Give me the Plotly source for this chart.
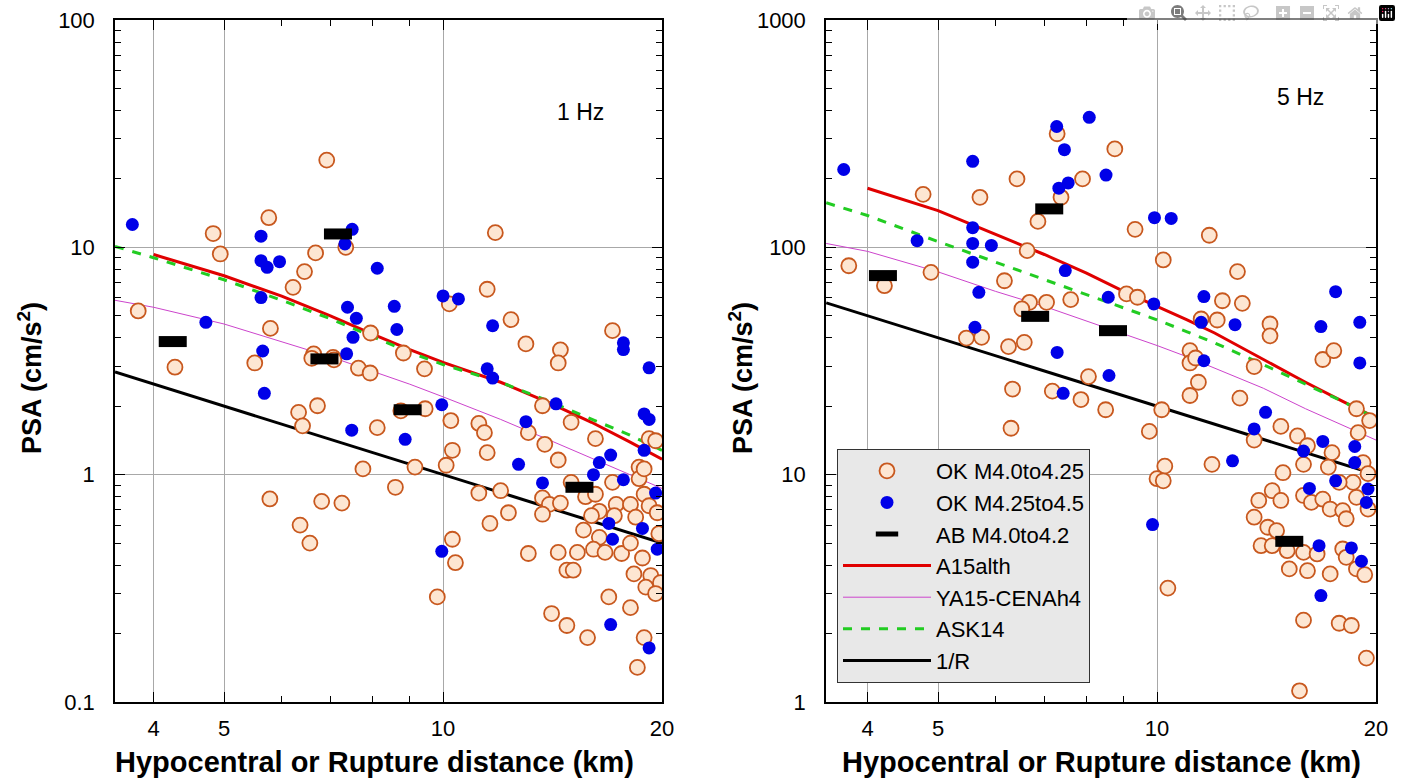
import plotly.graph_objects as go

W, H = 1401, 782

# ---------------- 1 Hz panel data ----------------
ok_low_1hz_x = [6.92, 5.76, 4.83, 4.94, 11.8, 7.35, 6.68, 6.45, 6.22, 11.5, 10.2, 3.81, 12.4, 5.79, 7.95, 17.1,
                13.0, 14.5, 14.4, 8.82, 9.43, 4.28, 5.51, 6.64, 6.6, 7.06, 7.08, 7.65, 7.94, 6.33, 6.72, 6.41,
                8.12, 7.76, 5.78, 6.81, 7.26, 6.36, 6.56, 8.6, 8.75, 9.45, 10.25, 11.2, 11.4, 13.7, 13.1, 13.8,
                15.0, 16.2, 19.2, 10.3, 11.5, 10.1, 9.15, 14.4, 18.6, 11.2, 12.0, 15.0, 15.7, 16.2, 17.1, 18.6,
                18.9, 13.7, 14.0, 14.5, 13.7, 12.3, 11.6, 16.4, 16.0, 17.3, 18.1, 18.4, 19.2, 19.7, 19.8, 17.2,
                15.6, 16.4, 16.1, 15.3, 14.4, 13.1, 16.7, 17.6, 18.1, 18.8, 14.8, 15.1, 18.3, 19.3, 19.0, 19.9,
                19.6, 10.3, 10.4, 9.82, 16.9, 18.1, 14.1, 14.8, 15.8, 18.9, 18.5, 18.9, 19.6]
ok_low_1hz_y = [24.2, 13.5, 11.5, 9.35, 11.6, 10.0, 9.45, 7.82, 6.67, 6.54, 5.64, 5.25, 4.81, 4.40, 4.2, 4.3,
                3.76, 3.54, 3.1, 3.43, 2.92, 2.97, 3.1, 3.4, 3.25, 3.28, 3.2, 2.94, 2.8, 1.88, 2.01, 1.64,
                1.61, 1.06, 0.782, 0.763, 0.75, 0.60, 0.50, 0.88, 1.91, 1.95, 1.73, 1.68, 1.53, 2.01, 1.53, 1.36,
                1.70, 1.44, 1.44, 1.28, 1.25, 1.1, 1.08, 1.16, 1.08, 0.83, 0.85, 0.925, 0.80, 0.82, 0.925, 0.96,
                0.82, 0.79, 0.74, 0.75, 0.67, 0.68, 0.61, 0.69, 0.66, 0.74, 0.74, 0.65, 0.73, 0.68, 0.55, 0.66,
                0.57, 0.53, 0.47, 0.455, 0.455, 0.45, 0.455, 0.45, 0.50, 0.43, 0.38, 0.38, 0.366, 0.36, 0.32, 0.335,
                0.30, 0.52, 0.41, 0.29, 0.29, 0.26, 0.245, 0.217, 0.192, 0.192, 0.142, 1.06, 1.41]

ok_high_1hz_x = [3.74, 5.62, 7.5, 7.33, 5.62, 5.73, 5.96, 8.12, 5.62, 10.0, 10.5, 4.72, 7.39, 7.6, 8.57, 8.64,
                 7.52, 11.7, 17.7, 17.7, 5.65, 7.37, 5.68, 7.49, 19.2, 11.5, 11.7, 9.96, 14.3, 13.0, 18.9, 19.2,
                 18.9, 17.0, 16.4, 16.1, 12.7, 13.7, 17.7, 19.6, 16.9, 17.1, 18.8, 19.7, 9.96, 17.0, 19.2, 8.87]
ok_high_1hz_y = [12.6, 11.2, 12.0, 10.35, 8.74, 8.17, 8.65, 8.09, 6.01, 6.11, 5.93, 4.68, 5.45, 4.87, 5.5, 4.35,
                 4.02, 4.52, 3.8, 3.55, 3.5, 3.4, 2.28, 1.57, 2.95, 2.92, 2.66, 2.03, 2.05, 1.71, 1.85, 1.75,
                 1.28, 1.22, 1.13, 1.0, 1.11, 0.92, 0.95, 0.83, 0.61, 0.52, 0.58, 0.47, 0.46, 0.219, 0.173, 1.43]

ab_1hz_x = [4.25, 7.17, 6.87, 8.94, 15.4]
ab_1hz_y = [3.85, 11.45, 3.23, 1.93, 0.88]

a15_1hz_x = [4, 5, 6, 7, 8, 9, 10, 12, 14, 16, 18, 20]
a15_1hz_y = [9.3, 7.5, 6.1, 5.0, 4.15, 3.55, 3.12, 2.55, 2.07, 1.7, 1.4, 1.17]
ya15_1hz_x = [3.54, 4, 5, 6, 7, 8, 9, 10, 12, 14, 16, 18, 20]
ya15_1hz_y = [5.85, 5.45, 4.6, 3.85, 3.3, 2.85, 2.5, 2.2, 1.75, 1.42, 1.18, 1.0, 0.87]
ask_1hz_x = [3.54, 4, 5, 6, 7, 8, 9, 10, 12, 14, 16, 18, 20]
ask_1hz_y = [10.1, 9.0, 7.2, 5.85, 4.85, 4.05, 3.45, 3.05, 2.55, 2.1, 1.75, 1.5, 1.28]
invr_1hz_x = [3.54, 20]
invr_1hz_y = [2.83, 0.5]

# ---------------- 5 Hz panel data ----------------
ok_low_5hz_x = [7.29, 8.75, 6.42, 7.9, 4.77, 5.71, 7.38, 6.86, 9.33, 11.8, 6.63, 10.2, 3.77, 4.89, 4.22, 12.9,
                6.17, 9.08, 9.4, 7.61, 12.3, 13.1, 6.68, 7.05, 6.52, 5.47, 5.74, 6.25, 6.57, 8.05, 6.33, 7.18,
                7.86, 8.5, 6.3, 9.76, 10.15, 10.25, 10.0, 10.2, 10.35, 11.5, 12.1, 14.3, 14.3, 11.1, 11.1, 11.3,
                11.4, 11.1, 13.0, 13.6, 16.9, 17.5, 18.8, 19.6, 18.9, 13.6, 11.9, 14.8, 15.6, 16.1, 17.4, 15.9,
                14.9, 17.2, 19.2, 19.5, 14.4, 14.8, 13.8, 13.6, 15.9, 16.3, 16.9, 17.3, 18.0, 18.6, 18.2, 18.8,
                19.5, 17.8, 14.2, 14.6, 13.9, 14.4, 15.1, 15.9, 16.6, 16.1, 15.2, 17.3, 18.0, 18.2, 18.8, 19.3,
                15.9, 17.8, 18.5, 19.4, 15.7]
ok_low_5hz_y = [316, 271, 200, 200, 171, 166, 166, 130, 120, 113, 96.7, 88, 83, 77.6, 67.8, 78.2,
                71.3, 62.4, 60.3, 58.9, 58.2, 56.7, 57.3, 57.3, 53.6, 39.9, 40.2, 36.6, 38.2, 27, 23.8, 23.3,
                21.4, 19.3, 16, 15.5, 19.3, 10.9, 9.6, 9.4, 3.17, 48.4, 47.9, 46, 40.8, 35.1, 31, 32.6,
                25.5, 22.3, 21.7, 29.9, 32.1, 35.1, 19.5, 17.3, 15.3, 14.2, 11.1, 16.3, 14.8, 13.4, 12.5, 11.1,
                10.2, 10.8, 11.3, 10.1, 8.5, 7.7, 7.7, 6.5, 8.1, 7.55, 7.8, 7.06, 6.95, 9.25, 6.4, 7.95,
                7.06, 9.25, 5.87, 5.67, 4.87, 4.87, 4.63, 4.55, 4.48, 3.78, 3.85, 3.66, 4.71, 4.33, 3.85, 3.63,
                2.29, 2.22, 2.17, 1.56, 1.12]

ok_high_5hz_x = [3.71, 5.58, 7.28, 8.07, 7.46, 8.51, 7.33, 7.55, 4.68, 5.58, 5.58, 5.58, 5.92, 9.92, 10.46, 7.48,
                 5.69, 8.57, 9.9, 11.6, 17.6, 5.62, 7.29, 8.59, 7.43, 11.5, 12.8, 16.8, 19.0, 11.6, 19.0, 14.1,
                 13.6, 12.7, 16.9, 15.9, 18.7, 18.7, 17.6, 16.2, 19.5, 19.4, 9.86, 16.7, 18.5, 19.1, 16.8]
ok_high_5hz_y = [220, 239, 340, 373, 269, 208, 182, 192, 107, 122, 104, 86, 102, 135, 134, 79,
                 63.4, 60.3, 56.4, 60.7, 63.8, 44.5, 34.5, 27.3, 22.8, 46.8, 45.7, 44.8, 46.8, 31.7, 31, 18.8,
                 15.9, 11.5, 14.0, 12.7, 13.3, 11.3, 9.4, 8.7, 8.65, 7.55, 6.03, 4.87, 4.76, 4.16, 2.94]

ab_5hz_x = [4.2, 7.11, 6.8, 8.7, 15.2]
ab_5hz_y = [75.1, 147.6, 49.7, 43, 5.09]

a15_5hz_x = [4, 5, 6, 7, 8, 9, 10, 11, 12, 14, 16, 18, 20]
a15_5hz_y = [182, 145, 114, 93, 77, 64, 55, 48, 42, 32, 25.5, 21, 17.8]
ya15_5hz_x = [3.51, 4, 5, 6, 7, 8, 9, 10, 11, 12, 14, 16, 18, 20]
ya15_5hz_y = [104, 96, 78, 64, 55, 47.5, 41.5, 37, 33, 29.5, 24, 19.5, 16.5, 14.2]
ask_5hz_x = [3.51, 4, 5, 6, 7, 8, 9, 10, 11, 12, 14, 16, 18, 20]
ask_5hz_y = [157, 138, 106, 86, 72, 62, 54, 48, 42.5, 38, 30.5, 25, 21, 17.7]
invr_5hz_x = [3.51, 20]
invr_5hz_y = [57, 10]

x_tickvals = [4, 5, 10, 20]
x_ticktext = ["4", "5", "10", "20"]
x_minor = [6, 7, 8, 9]
y1_tickvals = [0.1, 1, 10, 100]
y1_ticktext = ["0.1", "1", "10", "100"]
y2_tickvals = [1, 10, 100, 1000]
y2_ticktext = ["1", "10", "100", "1000"]

legend_names = ["OK M4.0to4.25", "OK M4.25to4.5", "AB M4.0to4.2", "A15alth", "YA15-CENAh4", "ASK14", "1/R"]

FONT = "Liberation Sans, Arial, sans-serif"

fig = go.Figure()

ORANGE_LINE = "#c8581e"
ORANGE_FILL = "#fde6d2"
BLUE = "#0000e8"


def add_panel(xa, ya, okl_x, okl_y, okh_x, okh_y, ab_x, ab_y, a15x, a15y, yax, yay, askx, asky, irx, iry, show):
    ref = dict(xaxis=xa, yaxis=ya)
    fig.add_trace(go.Scatter(x=irx, y=iry, mode="lines", name=legend_names[6], legendrank=7,
                             line=dict(color="black", width=3), showlegend=show, **ref))
    fig.add_trace(go.Scatter(x=yax, y=yay, mode="lines", name=legend_names[4], legendrank=5,
                             line=dict(color="#cc44cc", width=1), showlegend=show, **ref))
    fig.add_trace(go.Scatter(x=a15x, y=a15y, mode="lines", name=legend_names[3], legendrank=4,
                             line=dict(color="#e00000", width=3), showlegend=show, **ref))
    fig.add_trace(go.Scatter(x=askx, y=asky, mode="lines", name=legend_names[5], legendrank=6,
                             line=dict(color="#22cc22", width=3, dash="dash"), showlegend=show, **ref))
    fig.add_trace(go.Scatter(x=okl_x, y=okl_y, mode="markers", name=legend_names[0], legendrank=1,
                             marker=dict(symbol="circle", size=15, color=ORANGE_FILL,
                                         line=dict(color=ORANGE_LINE, width=1.8)),
                             showlegend=show, **ref))
    fig.add_trace(go.Scatter(x=okh_x, y=okh_y, mode="markers", name=legend_names[1], legendrank=2,
                             marker=dict(symbol="circle", size=13, color=BLUE, line=dict(width=0)),
                             showlegend=show, **ref))
    fig.add_trace(go.Scatter(x=ab_x, y=ab_y, mode="markers", name=legend_names[2], legendrank=3,
                             marker=dict(symbol="line-ew", size=20, color="black",
                                         line=dict(color="black", width=11)),
                             showlegend=show, **ref))


add_panel("x", "y", ok_low_1hz_x, ok_low_1hz_y, ok_high_1hz_x, ok_high_1hz_y, ab_1hz_x, ab_1hz_y,
          a15_1hz_x, a15_1hz_y, ya15_1hz_x, ya15_1hz_y, ask_1hz_x, ask_1hz_y, invr_1hz_x, invr_1hz_y, False)
add_panel("x2", "y2", ok_low_5hz_x, ok_low_5hz_y, ok_high_5hz_x, ok_high_5hz_y, ab_5hz_x, ab_5hz_y,
          a15_5hz_x, a15_5hz_y, ya15_5hz_x, ya15_5hz_y, ask_5hz_x, ask_5hz_y, invr_5hz_x, invr_5hz_y, True)


def xaxis_cfg(domain, rng, anchor):
    return dict(type="log", domain=domain, range=rng, anchor=anchor, automargin=False,
                showline=True, linecolor="black", linewidth=1.5, mirror="allticks",
                ticks="inside", ticklen=10, tickwidth=1, tickcolor="black",
                tickvals=x_tickvals, ticktext=x_ticktext, ticklabelstandoff=6,
                tickfont=dict(size=22, family=FONT, color="black"),
                showgrid=True, gridcolor="#a8a8a8", gridwidth=1, zeroline=False,
                minor=dict(tickmode="array", tickvals=x_minor, ticks="inside", ticklen=6,
                           tickcolor="black", tickwidth=1, showgrid=False))


def yaxis_cfg(domain, rng, anchor, tv, tt):
    minor_vals = [m * d for d in tv[:-1] for m in range(2, 10)]
    return dict(type="log", domain=domain, range=rng, anchor=anchor, automargin=False,
                showline=True, linecolor="black", linewidth=1.5, mirror="allticks",
                ticks="inside", ticklen=10, tickwidth=1, tickcolor="black",
                tickvals=tv, ticktext=tt, ticklabelstandoff=14,
                tickfont=dict(size=22, family=FONT, color="black"),
                showgrid=True, gridcolor="#a8a8a8", gridwidth=1, zeroline=False,
                minor=dict(tickmode="array", tickvals=minor_vals, ticks="inside", ticklen=6,
                           tickcolor="black", tickwidth=1, showgrid=False))


def ann(text, px, py, size, angle=0):
    return dict(text=text, x=px / W, y=1 - py / H, xref="paper", yref="paper", showarrow=False,
                xanchor="center", yanchor="middle", textangle=angle,
                font=dict(size=size, family=FONT, color="black"))


ydom = [1 - 702 / H, 1 - 20 / H]
fig.update_layout(
    width=W, height=H,
    margin=dict(l=0, r=0, t=0, b=0, autoexpand=False),
    paper_bgcolor="white", plot_bgcolor="white",
    font=dict(family=FONT, color="black"),
    xaxis=xaxis_cfg([115 / W, 662 / W], [0.549, 1.30103], "y"),
    yaxis=yaxis_cfg(ydom, [-1, 2], "x", y1_tickvals, y1_ticktext),
    xaxis2=xaxis_cfg([826 / W, 1376 / W], [0.545, 1.30103], "y2"),
    yaxis2=yaxis_cfg(ydom, [0, 3], "x2", y2_tickvals, y2_ticktext),
    showlegend=True,
    legend=dict(x=837 / W, y=1 - 449 / H, xanchor="left", yanchor="top",
                bgcolor="#e8e8e8", bordercolor="#333333", borderwidth=1,
                font=dict(size=22, family=FONT, color="black"),
                itemwidth=88, tracegroupgap=0),
    annotations=[
        ann("1 Hz", 580, 112, 23),
        ann("5 Hz", 1300, 97, 23),
        ann("<b>PSA (cm/s<sup>2</sup>)</b>", 30, 378, 27, -90),
        ann("<b>PSA (cm/s<sup>2</sup>)</b>", 741, 378, 27, -90),
        ann("<b>Hypocentral or Rupture distance (km)</b>", 374, 762, 29),
        ann("<b>Hypocentral or Rupture distance (km)</b>", 1101, 762, 29),
    ],
)

fig.write_html("out.html", post_script="document.body.style.margin='0';")
